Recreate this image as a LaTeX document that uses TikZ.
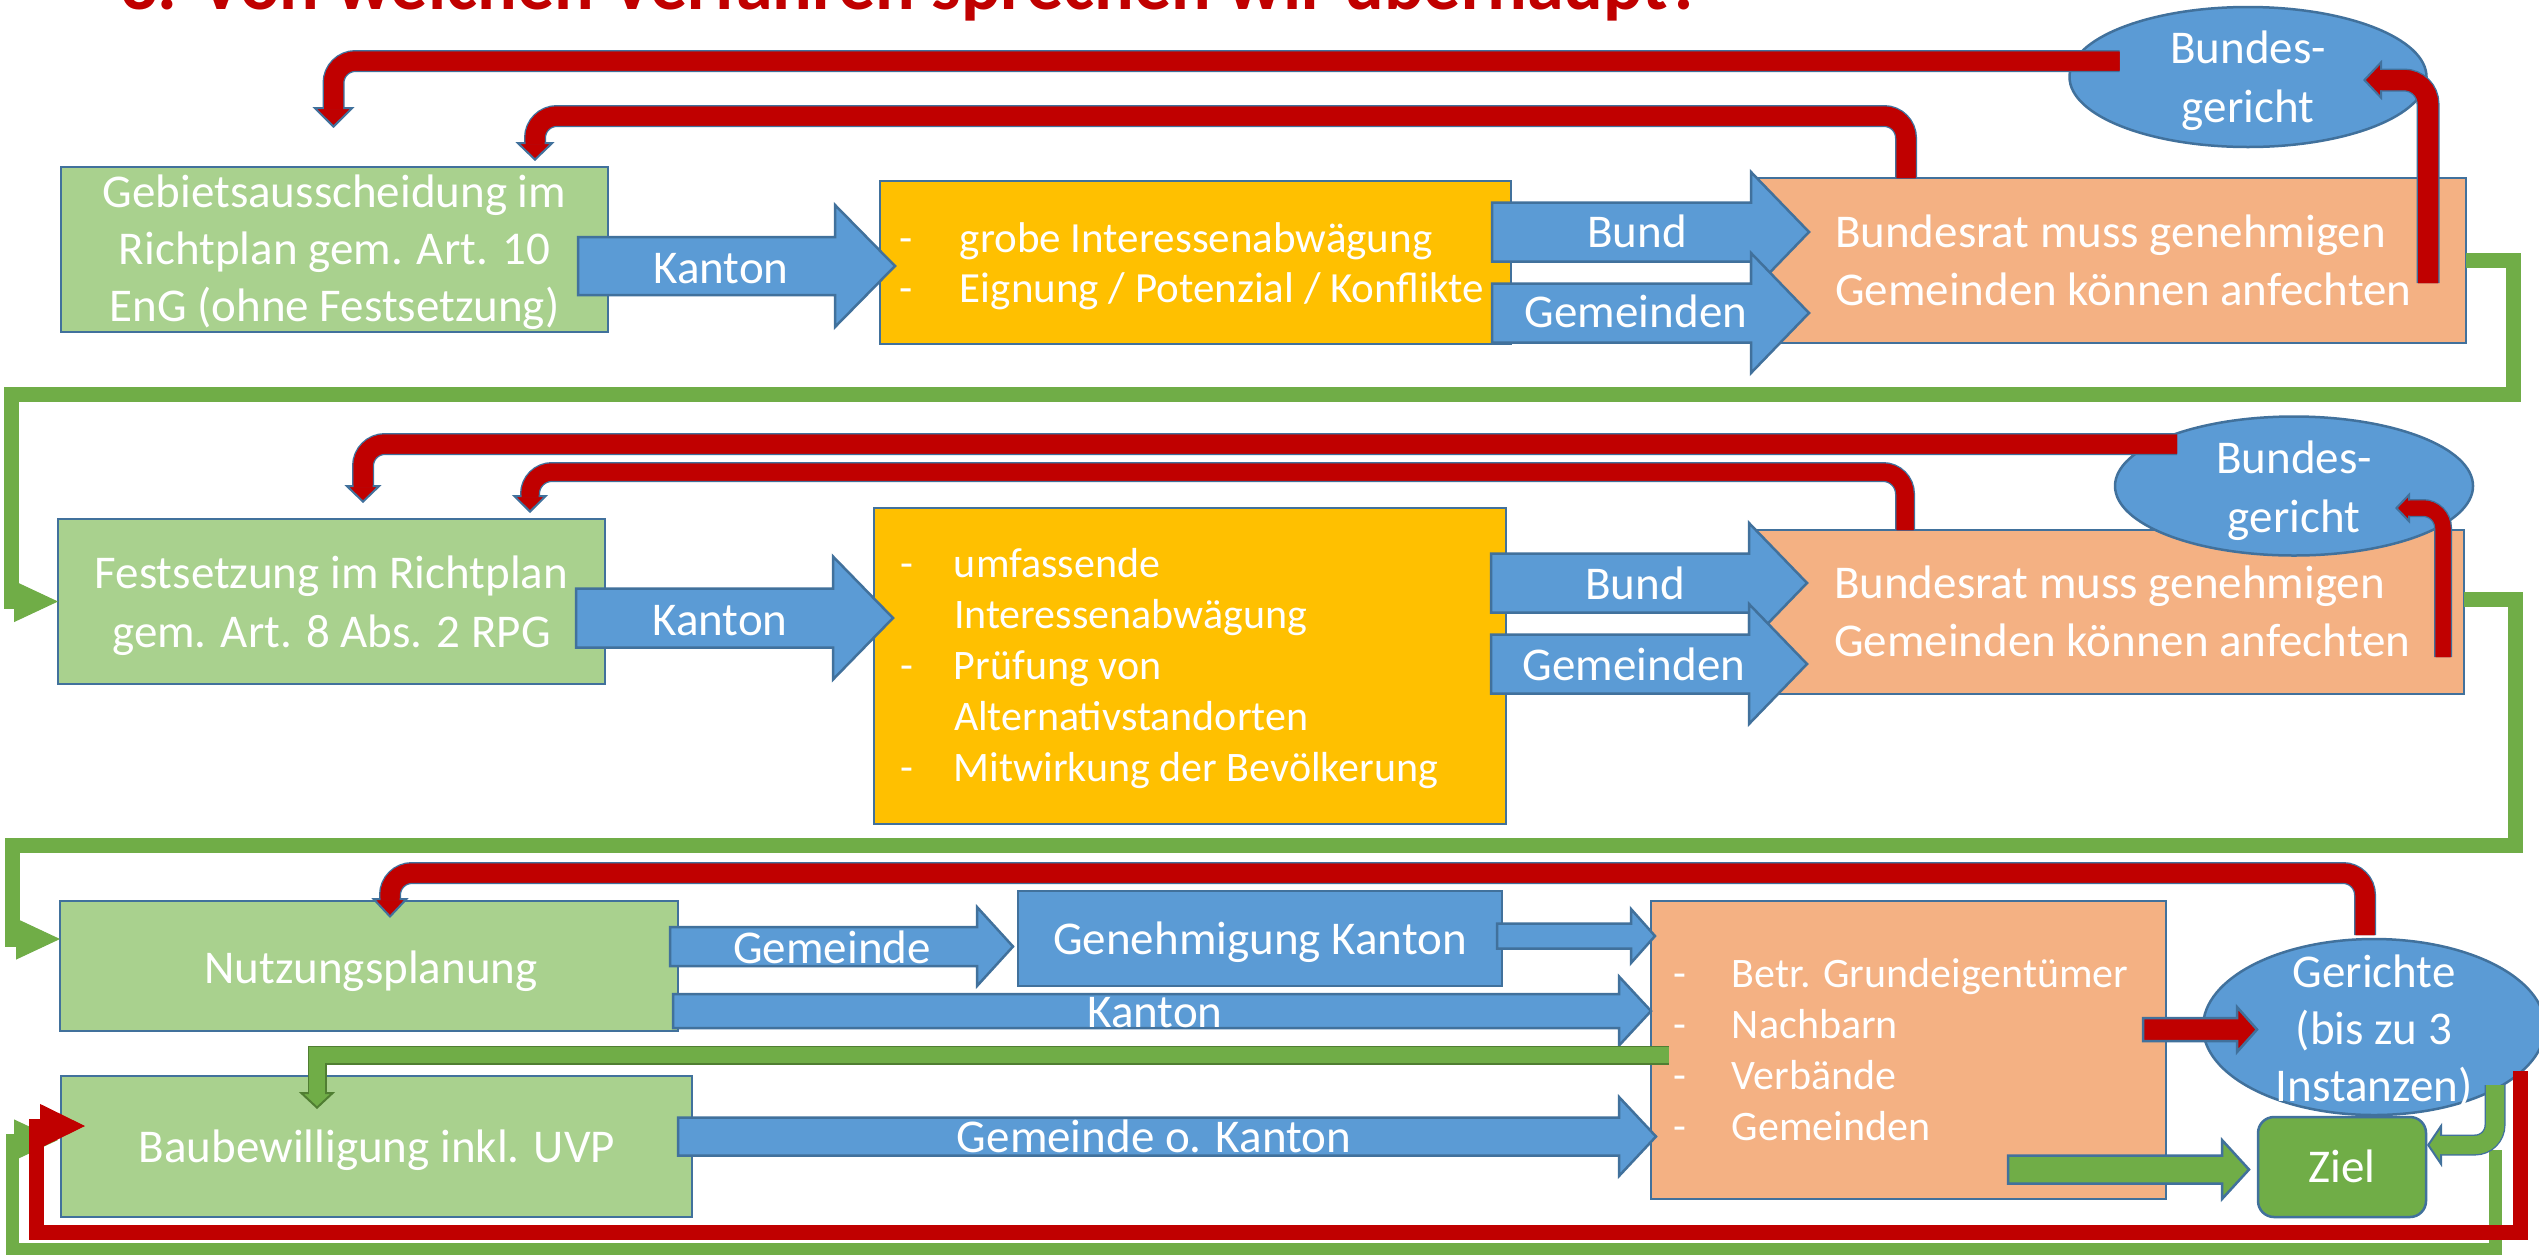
\documentclass[tikz,border=0pt]{standalone}
\usepackage{fontspec}
\setmainfont{Carlito}
\usetikzlibrary{arrows.meta,shapes.geometric,calc}
\definecolor{bordc}{HTML}{41719C}
\definecolor{gfill}{HTML}{A9D18E}
\definecolor{ofill}{HTML}{FFC000}
\definecolor{sfill}{HTML}{F4B183}
\definecolor{bfill}{HTML}{5B9BD5}
\definecolor{rfill}{HTML}{C00000}
\definecolor{gdark}{HTML}{70AD47}
\definecolor{gbord}{HTML}{507E32}
\tikzset{
  box/.style={rectangle, draw=bordc, line width=2.5pt, inner sep=0pt, outer sep=0pt},
  gbox/.style={box, fill=gfill},
  obox/.style={box, fill=ofill},
  sbox/.style={box, fill=sfill},
  court/.style={ellipse, draw=bordc, line width=2.5pt, fill=bfill, inner sep=0pt, outer sep=0pt},
  blk/.style={draw=bordc, line width=2.5pt, fill=bfill},
  rblk/.style={blk, fill=rfill},
  gblk/.style={blk, fill=gdark},
  wt/.style={text=white, inner sep=0pt, outer sep=0pt, font=\fontsize{47}{57}\selectfont},
  wl/.style={text=white, inner sep=0pt, outer sep=0pt, font=\fontsize{42}{51}\selectfont},
  flowg/.style={line width=15pt, draw=gdark},
  flowr/.style={line width=15pt, draw=rfill},
}
\newcommand{\linesC}[1]{\begin{tabular}[t]{@{}c@{}}#1\end{tabular}}
\newcommand{\linesL}[1]{\begin{tabular}[t]{@{}l@{}}#1\end{tabular}}
\newcommand{\lidash}[1]{\makebox[#1pt][l]{-}}
\newcommand{\liskip}[1]{\makebox[#1pt][l]{}}
% block arrow: style, x0, xbase, xtip, yc, half body, half head, name
\newcommand{\blockarrow}[8]{%
  \draw[#1] (#2,#5-#6) -- (#3,#5-#6) -- (#3,#5-#7) -- (#4,#5) -- (#3,#5+#7) -- (#3,#5+#6) -- (#2,#5+#6) -- cycle;
  \coordinate (#8) at ({(#2+#3)/2},#5);
}
% bent arrow with border: fill, border, width, tip length, tip width, radius, path
\newcommand{\bentarrow}[7]{%
  \draw[line width=#3pt+3pt, draw=#2, rounded corners=#6pt, shorten >=#4pt] #7;
  \draw[line width=#3pt, draw=#1, rounded corners=#6pt, -{Triangle[length=#4pt 0 0, width=#5pt 0 0, line width=2pt 0 0, color=#2, fill=#1]}] #7;
  \draw[line width=#3pt, draw=#1, rounded corners=#6pt, shorten >=#4pt-2.5pt] #7;
}
\begin{document}
\begin{tikzpicture}[x=1pt,y=-1pt]
\useasboundingbox (0,0) rectangle (2539,1254);
\fill[white] (0,0) rectangle (2539,1254);
\clip (0,0) rectangle (2539,1254);

% title (cut off at the top, as in the reference)
\node[anchor=base west, text=rfill, inner sep=0pt, font=\fontsize{74}{80}\selectfont\bfseries] (title) at (120,9) {3. Von welchen Verfahren sprechen wir überhaupt?};

% ---------- Row 1 ----------
\node[gbox, minimum width=547, minimum height=165] (gb1) at (334.5,249.5) {};
\node[obox, minimum width=631, minimum height=163] (og1) at (1195.5,262.5) {};
\node[sbox, minimum width=709, minimum height=165] (sal1) at (2111.5,260.5) {};
\node[court, minimum width=357, minimum height=140] (bg1) at (2248,77) {};

\blockarrow{blk}{578}{835}{895}{266}{29}{61}{aK1}
\blockarrow{blk}{1492}{1751}{1809}{232}{29.5}{60}{aB1}
\blockarrow{blk}{1492}{1751}{1809}{313}{29.5}{60}{aG1}

\node[wt, anchor=base] (gb1t) at (334.5,207) {\linesC{Gebietsausscheidung im\\Richtplan gem. Art. 10\\EnG (ohne Festsetzung)}};
\node[wt, anchor=base] (tK1) at (721,283) {Kanton};
\node[wl, font=\fontsize{43}{50}\selectfont, anchor=base west] (og1t) at (899,252) {\linesL{\lidash{61}grobe Interessenabwägung\\\lidash{61}Eignung / Potenzial / Konflikte}};
\node[wt, anchor=base] (tB1) at (1637,247) {Bund};
\node[wt, anchor=base] (tG1) at (1636,327) {Gemeinden};
\node[wt, font=\fontsize{47}{58}\selectfont, anchor=base west] (sal1t) at (1835,247) {\linesL{Bundesrat muss genehmigen\\Gemeinden können anfechten}};
\node[wt, font=\fontsize{47}{59}\selectfont, anchor=base] (bg1t) at (2248,63) {\linesC{Bundes-\\gericht}};

\bentarrow{rfill}{bordc}{19}{21}{42}{22}{($(bg1.west)+(50,-16)$) -| ($(gb1.north)+(-1,-39)$)}
\bentarrow{rfill}{bordc}{19}{19}{39}{22}{($(sal1.north west)+(149,0)$) -- ++(0,-62) -| ($(gb1.north)+(200.5,-6)$)}
\bentarrow{rfill}{bordc}{20}{19}{40}{24}{($(sal1.north east)+(-38,105)$) |- ($(bg1.center)+(115,3)$)}

% ---------- Row 2 ----------
\node[gbox, minimum width=547, minimum height=165] (gb2) at (331.5,601.5) {};
\node[obox, minimum width=632, minimum height=316] (og2) at (1190,666) {};
\node[sbox, minimum width=708, minimum height=164] (sal2) at (2110,612) {};
\node[court, minimum width=358, minimum height=139] (bg2) at (2294,486) {};

\blockarrow{blk}{576}{833}{893}{618}{29.5}{61.5}{aK2}
\blockarrow{blk}{1491}{1749}{1807}{583}{29.5}{60}{aB2}
\blockarrow{blk}{1491}{1749}{1807}{664}{29.5}{60}{aG2}

\node[wt, font=\fontsize{47}{59}\selectfont, anchor=base] (gb2t) at (331.5,588) {\linesC{Festsetzung im Richtplan\\gem. Art. 8 Abs. 2 RPG}};
\node[wt, anchor=base] (tK2) at (720,635) {Kanton};
\node[wl, anchor=base west] (og2t) at (900,577) {\linesL{\lidash{54}umfassende\\\liskip{54}Interessenabwägung\\\lidash{54}Prüfung von\\\liskip{54}Alternativstandorten\\\lidash{54}Mitwirkung der Bevölkerung}};
\node[wt, anchor=base] (tB2) at (1635,599) {Bund};
\node[wt, anchor=base] (tG2) at (1634,680) {Gemeinden};
\node[wt, font=\fontsize{47}{58}\selectfont, anchor=base west] (sal2t) at (1834,598) {\linesL{Bundesrat muss genehmigen\\Gemeinden können anfechten}};
\node[wt, font=\fontsize{47}{59}\selectfont, anchor=base] (bg2t) at (2294,473) {\linesC{Bundes-\\gericht}};

\bentarrow{rfill}{bordc}{19}{18}{37}{22}{($(bg2.west)+(62,-42)$) -| ($(gb2.north)+(31.5,-16)$)}
\bentarrow{rfill}{bordc}{17}{18}{36}{22}{($(sal2.north west)+(149,0)$) -- ++(0,-58) -| ($(gb2.north)+(198.5,-6)$)}
\bentarrow{rfill}{bordc}{15}{15}{31}{20}{($(sal2.north east)+(-21,127)$) |- ($(bg2.center)+(101,22)$)}

\draw[flowg, -{Triangle[length=44pt 0 0, width=41pt 0 0, line width=1pt 0 0]}] (sal1.east) -- ++(47,0) -- ++(0,134) -| ($(gb2.west)+(-47,0)$) -- (gb2.west);

% ---------- Rows 3 and 4 ----------
\node[gbox, minimum width=618, minimum height=130] (gb3) at (369,966) {};
\node[box, fill=bfill, minimum width=484, minimum height=95] (gk) at (1260,938.5) {};
\node[sbox, minimum width=515, minimum height=298] (sal3) at (1908.5,1050) {};
\node[court, minimum width=342, minimum height=176] (ger) at (2374,1027) {};
\node[box, fill=gdark, rounded corners=16pt, minimum width=168, minimum height=100] (ziel) at (2342,1167) {};
\node[gbox, minimum width=631, minimum height=141] (gb4) at (376.5,1146.5) {};

\draw[flowg, -{Triangle[length=44pt 0 0, width=41pt 0 0, line width=1pt 0 0]}] ($(sal2.east)+(0,-13)$) -- ++(51,0) -- ++(0,246) -| ($(gb3.west)+(-48,-27)$) -- ($(gb3.west)+(0,-27)$);

\blockarrow{blk}{670}{977}{1013}{946.5}{19.5}{39.5}{aGe3}
\blockarrow{blk}{1497}{1631}{1655}{936}{12.5}{27}{aGK}
\blockarrow{blk}{673}{1619}{1651}{1011}{17}{34.5}{aK3}
\blockarrow{blk}{678}{1619}{1656}{1136.5}{19}{39.5}{aGoK}
\blockarrow{rblk}{2143}{2237}{2257}{1029.5}{11.5}{22.5}{aRG}
\blockarrow{gblk}{2008}{2222}{2249}{1169.5}{14}{29.5}{aZ}

\node[wt, anchor=base] (gb3t) at (371,983) {Nutzungsplanung};
\node[wt, anchor=base] (tGe3) at (832,963) {Gemeinde};
\node[wt, anchor=base] (gkt) at (1260,954) {Genehmigung Kanton};
\node[wt, anchor=base] (tK3) at (1155,1027) {Kanton};
\node[wl, anchor=base west] (sal3t) at (1673,987) {\linesL{\lidash{59}Betr. Grundeigentümer\\\lidash{59}Nachbarn\\\lidash{59}Verbände\\\lidash{59}Gemeinden}};
\node[wt, anchor=base] (gert) at (2374,987) {\linesC{Gerichte\\(bis zu 3\\Instanzen)}};
\node[wt, anchor=base] (zielt) at (2342,1182) {Ziel};
\node[wt, anchor=base] (gb4t) at (377,1162) {Baubewilligung inkl. UVP};
\node[wt, anchor=base] (tGoK) at (1154,1152) {Gemeinde o. Kanton};

\bentarrow{rfill}{bordc}{19}{20}{37}{22}{($(ger.north)+(-9,-4)$) -- ++(0,-62) -| ($(gb3.north)+(21,17)$)}
\bentarrow{gdark}{gbord}{16}{17}{36}{0}{($(sal3.west)+(18,5)$) -| ($(gb4.north)+(-59.5,33)$)}

\draw[line width=13pt, draw=gdark, -{Triangle[length=44pt 0 0, width=41pt 0 0, line width=1pt 0 0]}] ($(ger.south)+(121,35)$) -- ++(0,99) -| ($(gb4.west)+(-49,-6.5)$) -- ($(gb4.west)+(-3,-6.5)$);
\bentarrow{gdark}{bordc}{18}{15}{44}{20}{($(ger.center)+(121,58)$) |- ($(ziel.east)+(1,-22)$)}
\draw[flowr, -{Triangle[length=45pt 0 0, width=44pt 0 0, line width=1pt 0 0]}] ($(ger.center)+(146,44)$) -- ++(0,161) -| ($(gb4.west)+(-25,-20.5)$) -- ($(gb4.west)+(24,-20.5)$);
\end{tikzpicture}
\end{document}
